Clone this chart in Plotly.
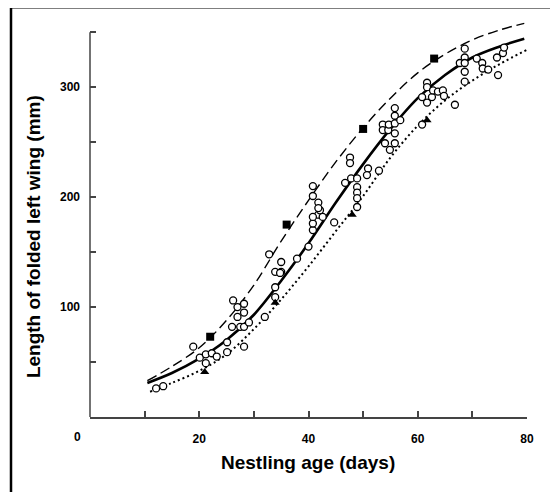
import plotly.graph_objects as go

# ---- data ----
obs_age = [12.1, 13.4, 18.9, 20.1, 21.2, 21.2, 22.3, 23.2, 25.1, 25.1, 26.0, 26.2, 27.0, 27.0, 27.5,
           28.2, 28.2, 28.2, 28.2, 29.1, 32.0, 32.8, 33.9, 33.9, 33.9, 35.0, 35.0, 34.8, 37.9, 40.0,
           40.8, 40.8, 40.8, 40.8, 41.8, 41.8, 42.1, 42.6, 41.8, 40.8, 44.7, 46.7, 47.6, 47.6, 47.8,
           48.9, 48.9, 48.9, 48.9, 48.9, 50.9, 50.7, 52.9, 53.6, 53.6, 54.0, 54.6, 54.7, 54.9, 55.8,
           55.8, 55.8, 55.8, 55.8, 56.8, 60.8, 60.8, 61.7, 61.7, 61.7, 62.6, 62.8, 63.7, 64.6, 64.8,
           66.8, 67.7, 68.6, 68.6, 68.6, 68.6, 68.6, 70.8, 71.8, 71.9, 72.9, 74.5, 74.7, 75.6, 75.8]
obs_len = [26, 28, 64, 54, 57, 49, 58, 55, 68, 59, 82, 106, 100, 91, 82,
           103, 82, 95, 64, 86, 91, 148, 132, 118, 109, 141, 132, 131, 144, 155,
           210, 201, 170, 176, 195, 184, 188, 182, 190, 182, 177, 213, 236, 231, 217,
           217, 209, 204, 199, 191, 226, 220, 224, 266, 261, 249, 261, 266, 243, 281,
           274, 267, 258, 249, 270, 291, 266, 304, 300, 286, 291, 297, 296, 297, 292,
           284, 322, 335, 327, 322, 314, 305, 326, 322, 317, 316, 327, 311, 331, 336]

sq_age = [22, 36, 50, 63]
sq_len = [73, 175, 262, 326]

tri_age = [21, 33.9, 48, 61.7]
tri_len = [41, 104, 184, 270]

curve_age = [10.5, 15, 20, 25, 30, 35, 40, 45, 50, 55, 60, 65, 70, 75, 79.5]
mean_len = [31, 40, 53, 70, 93, 124, 158, 195, 230, 262, 290, 311, 327, 337, 344]
upper_len = [33, 46, 63, 88, 120, 160, 197, 232, 263, 290, 313, 330, 343, 352, 358]
lower_age = [11, 15, 20, 25, 30, 35, 40, 45, 50, 55, 60, 65, 70, 75, 80]
lower_len = [23, 31, 42, 57, 80, 107, 137, 169, 201, 236, 265, 288, 306, 321, 334]

x_ticks = [10, 20, 30, 40, 50, 60, 70, 80]
x_ticktext = ["", "20", "", "40", "", "60", "", "80"]
y_ticks = [50, 100, 150, 200, 250, 300, 350]
y_ticktext = ["", "100", "", "200", "", "300", ""]
Y_AXIS_TOP = 350
Y_VIEW_TOP = 362

FONT = "Liberation Sans, Arial, sans-serif"

# page offset of the plot div (browser body margin)
OX, OY = 8, 8
UNIT = 1.1  # px per mm on the y axis
L, R = 90 - OX, 527 - OX
B = 417 - OY
T = B - Y_VIEW_TOP * UNIT
W, H = 558 - OX, 492 - OY
PW, PH = R - L, B - T


def px(xp):
    return (xp - OX - L) / PW


def py(yp):
    return (B - (yp - OY)) / PH


AX = "#444"

fig = go.Figure()
fig.add_trace(go.Scatter(x=curve_age, y=upper_len, mode="lines", line=dict(color="black", width=1.4, dash="10px,5px", shape="spline")))
fig.add_trace(go.Scatter(x=lower_age, y=lower_len, mode="lines", line=dict(color="black", width=2, dash="2px,3px", shape="spline")))
fig.add_trace(go.Scatter(x=curve_age, y=mean_len, mode="lines", line=dict(color="black", width=2.6, shape="spline")))
fig.add_trace(go.Scatter(x=obs_age, y=obs_len, mode="markers",
                         marker=dict(symbol="circle", size=7, color="white", line=dict(color="black", width=1.3))))
fig.add_trace(go.Scatter(x=sq_age, y=sq_len, mode="markers",
                         marker=dict(symbol="square", size=8, color="black")))
fig.add_trace(go.Scatter(x=tri_age, y=tri_len, mode="markers",
                         marker=dict(symbol="triangle-up", size=8, color="black")))

fig.update_layout(
    width=W, height=H,
    margin=dict(l=L, r=W - R, t=T, b=H - B),
    plot_bgcolor="white", paper_bgcolor="white",
    showlegend=False,
    font=dict(family=FONT, color="black"),
    xaxis=dict(range=[0, 80], showgrid=False, zeroline=False, showline=True, linecolor=AX, linewidth=1.5,
               ticks="inside", ticklen=6, tickcolor=AX, tickwidth=1.5,
               tickvals=x_ticks, ticktext=x_ticktext, ticklabelstandoff=10,
               tickfont=dict(family=FONT, size=12, weight="bold")),
    yaxis=dict(range=[0, Y_VIEW_TOP], showgrid=False, zeroline=False, showline=False,
               ticks="inside", ticklen=6, tickcolor=AX, tickwidth=1.5,
               tickvals=y_ticks, ticktext=y_ticktext, ticklabelstandoff=9,
               tickfont=dict(family=FONT, size=12, weight="bold")),
    annotations=[
        dict(text="<b>0</b>", xref="paper", yref="paper", x=px(77), y=py(437),
             showarrow=False, xanchor="center", yanchor="middle", font=dict(size=12)),
        dict(text="<b>Nestling age (days)</b>", xref="paper", yref="paper", x=px(308), y=py(463),
             showarrow=False, xanchor="center", yanchor="middle", font=dict(size=19)),
        dict(text="<b>Length of folded left wing (mm)</b>", xref="paper", yref="paper", x=px(33),
             y=py(237), textangle=-90,
             showarrow=False, xanchor="center", yanchor="middle", font=dict(size=19)),
    ],
    shapes=[
        dict(type="line", xref="paper", yref="y", x0=0, x1=0, y0=0, y1=Y_AXIS_TOP,
             line=dict(color=AX, width=1.5)),
        dict(type="line", xref="paper", yref="paper", x0=px(11), x1=px(11),
             y0=py(520), y1=py(7), line=dict(color="black", width=2.5)),
        dict(type="line", xref="paper", yref="paper", x0=px(11), x1=px(600),
             y0=py(7), y1=py(7), line=dict(color="black", width=2.5)),
    ],
)

fig.write_html("out.html")
